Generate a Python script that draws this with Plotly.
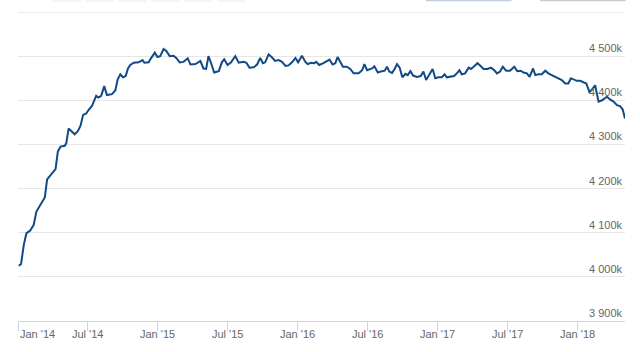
import pandas as pd
import plotly.graph_objects as go

# ---- data ----
start_date = "2014-01-01"
day_offsets = [
    2, 8, 15, 22, 32, 41, 48, 54, 63, 70, 76, 85, 98, 104, 111, 122, 126, 132, 141, 148,
    156, 163, 170, 178, 184, 193, 204, 210, 217, 225, 232, 245, 254, 260, 267, 274, 281, 287, 293, 302,
    315, 325, 330, 341, 347, 357, 364, 371, 380, 387, 396, 406, 413, 422, 432, 443, 450, 463, 476, 484,
    491, 497, 504, 512, 524, 532, 538, 547, 556, 567, 576, 589, 596, 604, 615, 624, 632, 639, 645, 654,
    663, 671, 680, 689, 698, 706, 715, 724, 731, 741, 750, 756, 765, 773, 778, 786, 797, 806, 813, 821,
    828, 834, 841, 848, 858, 867, 876, 889, 898, 904, 911, 924, 930, 939, 950, 957, 963, 969, 976, 983,
    989, 996, 1003, 1011, 1017, 1024, 1031, 1041, 1051, 1058, 1065, 1074, 1082, 1089, 1097, 1106, 1113, 1119, 1128, 1138,
    1145, 1152, 1158, 1167, 1176, 1182, 1189, 1199, 1208, 1215, 1225, 1234, 1243, 1250, 1258, 1265, 1274, 1284, 1295, 1303,
    1312, 1319, 1328, 1335, 1344, 1350, 1358, 1367, 1376, 1384, 1393, 1402, 1410, 1419, 1428, 1436, 1443, 1451, 1458, 1467,
    1476, 1483, 1491, 1497, 1506, 1515, 1524, 1530, 1537, 1545, 1554, 1563, 1571, 1578, 1584,
]
values_k = [
    4025, 4029, 4072, 4099, 4105, 4118, 4148, 4157, 4172, 4180, 4221, 4231, 4244, 4284, 4295, 4297, 4303, 4336, 4329, 4323,
    4330, 4342, 4367, 4370, 4378, 4387, 4410, 4406, 4410, 4432, 4412, 4414, 4422, 4447, 4459, 4452, 4455, 4472, 4480, 4485,
    4486, 4491, 4485, 4486, 4495, 4508, 4498, 4500, 4516, 4512, 4500, 4501, 4496, 4486, 4487, 4495, 4481, 4482, 4489, 4472,
    4471, 4500, 4484, 4463, 4466, 4486, 4493, 4480, 4486, 4500, 4485, 4487, 4485, 4474, 4475, 4481, 4496, 4484, 4486, 4504,
    4497, 4489, 4491, 4487, 4478, 4479, 4486, 4496, 4486, 4501, 4487, 4482, 4485, 4484, 4487, 4480, 4484, 4488, 4492, 4481,
    4484, 4498, 4488, 4476, 4476, 4471, 4461, 4461, 4468, 4482, 4468, 4472, 4477, 4463, 4466, 4467, 4476, 4465, 4462, 4471,
    4482, 4474, 4452, 4460, 4457, 4466, 4456, 4453, 4455, 4465, 4446, 4461, 4471, 4450, 4452, 4452, 4459, 4452, 4453, 4455,
    4461, 4468, 4459, 4461, 4474, 4471, 4476, 4484, 4477, 4471, 4471, 4474, 4468, 4461, 4465, 4476, 4467, 4467, 4476, 4466,
    4467, 4463, 4461, 4453, 4472, 4457, 4459, 4459, 4467, 4461, 4457, 4453, 4450, 4446, 4438, 4438, 4450, 4447, 4444, 4444,
    4441, 4438, 4419, 4423, 4434, 4397, 4400, 4404, 4408, 4402, 4397, 4389, 4387, 4379, 4359,
]
x_range = ["2014-01-01", "2018-05-04"]
y_ticks_k = [3900, 4000, 4100, 4200, 4300, 4400, 4500]
y_top_k = 4600
x_tick_dates = ["2014-01-01", "2014-07-01", "2015-01-01", "2015-07-01", "2016-01-01",
                "2016-07-01", "2017-01-01", "2017-07-01", "2018-01-01"]
x_tick_labels = ["Jan '14", "Jul '14", "Jan '15", "Jul '15", "Jan '16",
                 "Jul '16", "Jan '17", "Jul '17", "Jan '18"]

dates = pd.Timestamp(start_date) + pd.to_timedelta(day_offsets, unit="D")

FONT = "Liberation Sans, Arial, sans-serif"
LABEL_COLOR = "#666666"

fig = go.Figure()
fig.add_trace(go.Scatter(
    x=dates, y=values_k, mode="lines",
    line=dict(color="#114a85", width=2),
    hoverinfo="skip", showlegend=False,
))

annotations = []
for v in y_ticks_k:
    annotations.append(dict(
        xref="paper", yref="y", x=1, y=v, text=f"{v // 1000} {v % 1000:03d}k",
        xanchor="right", yanchor="bottom", yshift=0, showarrow=False,
        font=dict(family=FONT, size=11, color=LABEL_COLOR),
    ))
for i, (d, t) in enumerate(zip(x_tick_dates, x_tick_labels)):
    annotations.append(dict(
        xref="x", yref="paper", x=d, y=-0.043, text=t,
        xanchor="left" if i == 0 else "center", yanchor="middle", showarrow=False,
        font=dict(family=FONT, size=11, color=LABEL_COLOR),
    ))

shapes = [
    # top grid line
    dict(type="line", xref="paper", yref="y", x0=0, x1=1, y0=y_top_k, y1=y_top_k,
         line=dict(color="#ececec", width=2)),
    # range-input underlines at the top edge
    dict(type="line", xref="paper", yref="paper", x0=0.672, x1=0.813, y0=1.037, y1=1.037,
         line=dict(color="#c3cfdc", width=1.5)),
    dict(type="line", xref="paper", yref="paper", x0=0.860, x1=1.001, y0=1.037, y1=1.037,
         line=dict(color="#cccccc", width=1.5)),
]
for x0, x1 in [(0.056, 0.104), (0.111, 0.157), (0.165, 0.213), (0.219, 0.267), (0.273, 0.320), (0.329, 0.375)]:
    shapes.append(dict(type="rect", xref="paper", yref="paper", x0=x0, x1=x1, y0=1.032, y1=1.045,
                       line=dict(width=0), fillcolor="#f5f5f5"))

fig.update_layout(
    width=640, height=352,
    margin=dict(l=18, r=15, t=12, b=31, pad=0),
    paper_bgcolor="white", plot_bgcolor="white",
    xaxis=dict(
        type="date", range=x_range, tickvals=x_tick_dates, ticktext=[""] * len(x_tick_dates),
        ticks="outside", ticklen=9, tickwidth=1, tickcolor="#ccd6eb",
        showline=True, linecolor="#ccd6eb", linewidth=1,
        showgrid=False, zeroline=False, fixedrange=True,
    ),
    yaxis=dict(
        range=[3900, y_top_k], tickvals=y_ticks_k, showticklabels=False,
        showgrid=True, gridcolor="#e6e6e6", gridwidth=1,
        zeroline=False, showline=False, ticks="", fixedrange=True,
    ),
    annotations=annotations,
    shapes=shapes,
    font=dict(family=FONT),
)

fig.write_html("out.html")
